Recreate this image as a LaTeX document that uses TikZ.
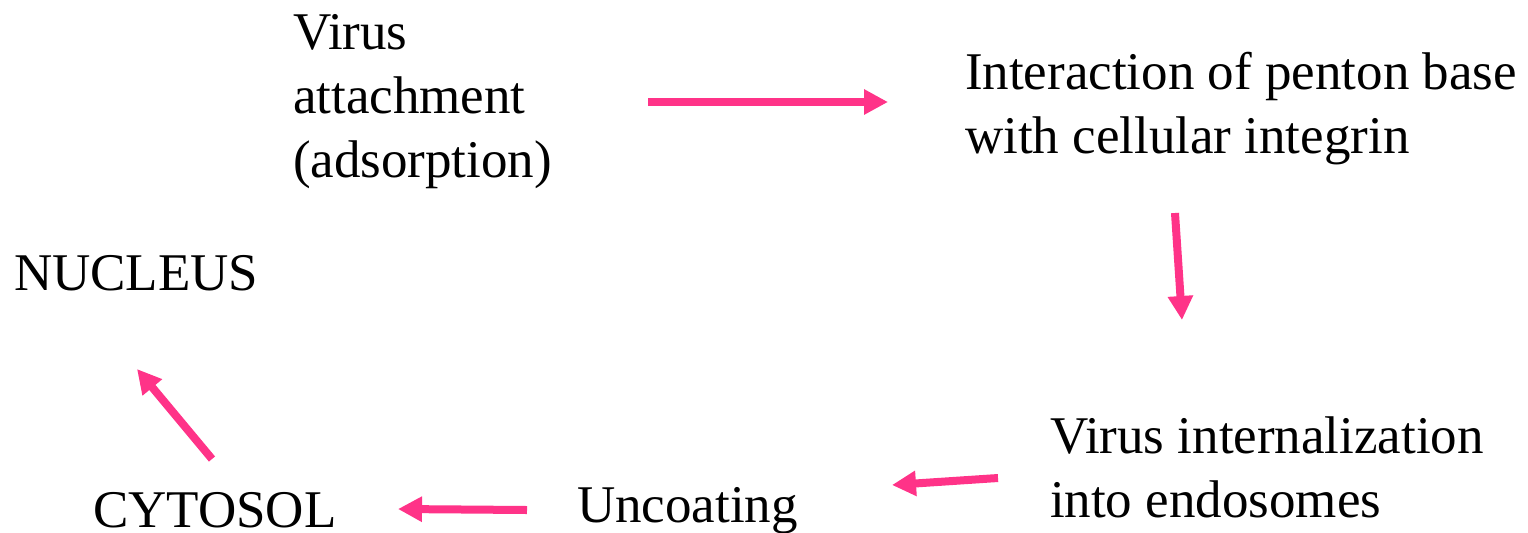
\documentclass[tikz,border=0pt]{standalone}
\usepackage{fontspec}
\setmainfont{Liberation Serif}
\usetikzlibrary{arrows.meta}
\definecolor{arrowpink}{HTML}{FF3388}
\tikzset{
  lbl/.style={inner sep=0pt, outer sep=0pt, align=left, anchor=base west,
    font=\fontsize{26.5}{32}\selectfont},
  flow/.style={draw=arrowpink, line width=4pt,
    -{Triangle[length=12pt,width=12pt]}, shorten >=0pt}
}
\begin{document}
\begin{tikzpicture}[x=0.5pt,y=-0.5pt]
\useasboundingbox (0,0) rectangle (1528,532);
% anchors are at the baseline of the last line
\node[lbl] (attach) at (293,177) {Virus\\attachment\\(adsorption)};
\node[lbl] (inter) at (965,153) {Interaction of penton base\\with cellular integrin};
\node[lbl] (nucleus) at (14,290) {NUCLEUS};
\node[lbl] (intern) at (1050,517) {Virus internalization\\into endosomes};
\node[lbl] (uncoat) at (577,522) {Uncoating};
\node[lbl] (cyto) at (93,527) {CYTOSOL};
\coordinate (a1s) at (648,102);
\coordinate (a1e) at (888,102);
\coordinate (a2s) at (1175,213);
\coordinate (a2e) at (1182,320);
\coordinate (a3s) at (998,478);
\coordinate (a3e) at (892,485);
\coordinate (a4s) at (527,510);
\coordinate (a4e) at (398,509);
\coordinate (a5s) at (212,459);
\coordinate (a5e) at (137,369);
\draw[flow] (a1s) -- (a1e);
\draw[flow] (a2s) -- (a2e);
\draw[flow] (a3s) -- (a3e);
\draw[flow] (a4s) -- (a4e);
\draw[flow] (a5s) -- (a5e);
\end{tikzpicture}
\end{document}
